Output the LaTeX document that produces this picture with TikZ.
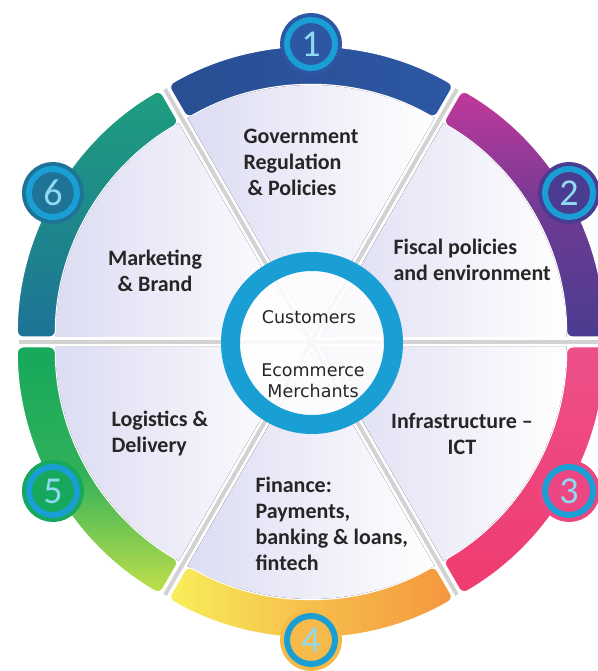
\documentclass[tikz,border=0pt]{standalone}
\usepackage{fontspec}
\setmainfont{Carlito}
\newfontfamily\hubfont{DejaVu Sans}

\definecolor{ringc}{HTML}{1A9FD4}
\definecolor{numc}{HTML}{8FD9F3}
\definecolor{txt}{HTML}{262626}
\definecolor{lav}{HTML}{DCDCF3}
\definecolor{cOne}{HTML}{2D57A3}
\definecolor{cTwoA}{HTML}{C2389B}
\definecolor{cTwoB}{HTML}{4A3C91}
\definecolor{cThree}{HTML}{EC4683}
\definecolor{cFourA}{HTML}{F8EF5A}
\definecolor{cFourB}{HTML}{F5963F}
\definecolor{cFiveA}{HTML}{16A85C}
\definecolor{cFiveB}{HTML}{C2E04A}
\definecolor{cSixA}{HTML}{1E9E7E}
\definecolor{cSixB}{HTML}{1E7396}

\begin{document}
\begin{tikzpicture}[
    x=1pt, y=1pt,
    wedge/.style={left color=lav, right color=white},
    band/.style={draw=white, line width=1pt, rounded corners=6pt},
    band1/.style={left color=cOne!90!black, right color=cOne},
    band2/.style={top color=cTwoA, bottom color=cTwoB, middle color=cTwoB!70!cTwoA},
    band3/.style={top color=cThree!95!white, bottom color=cThree!85!red},
    band4/.style={left color=cFourA, right color=cFourB, middle color=cFourA!45!cFourB},
    band5/.style={top color=cFiveA, bottom color=cFiveB, middle color=cFiveA!85!cFiveB},
    band6/.style={top color=cSixA, bottom color=cSixB},
    divider/.style={draw=gray!35, line width=4pt},
    hub/.style={circle, minimum size=163pt, draw=ringc, line width=19pt, fill=white, fill opacity=.85},
    badge/.style={circle, minimum size=48pt, inner sep=0pt, line width=6pt, draw=ringc, fill=#1,
        preaction={draw=#1, line width=14pt}, text=numc, font=\fontsize{38}{38}\selectfont},
    lbl/.style={font=\bfseries\fontsize{22}{26}\selectfont, text=txt, align=left},
    hubtxt/.style={font=\hubfont\fontsize{17.5}{21}\selectfont, text=txt, align=center}
]
\useasboundingbox (-311,-329) rectangle (286,342);

% gaps between the six parts
\foreach \a in {0,60,...,300}
  \draw[divider] (0,0) -- (\a:292);

% the six parts, pulled a little apart
\foreach \n/\a in {1/60, 2/0, 3/-60, 4/-120, 5/180, 6/120} {
  \begin{scope}[shift={(\a+30:10)}]
    \fill[wedge] (0,0) -- (\a:247) arc[start angle=\a, end angle=\a+60, radius=247pt] -- cycle;
    \path[band, band\n] (\a:285) arc[start angle=\a, end angle=\a+60, radius=285pt]
      -- (\a+60:247) arc[start angle=\a+60, end angle=\a, radius=247pt] -- cycle;
  \end{scope}
}

% hub
\node[hub] (hub) at (1,-1) {};
\node[hubtxt] (customers) at (-2,25) {Customers};
\node[hubtxt] (merchants) at (2,-39) {Ecommerce\\Merchants};

% labels
\node[lbl, anchor=west] (gov) at (-71,180) {Government\\Regulation\\\hspace*{4pt}\& Policies};
\node[lbl, anchor=west] (fiscal) at (79,82) {Fiscal policies\\and environment};
\node[lbl, align=center] (infra) at (151,-92) {Infrastructure –\\ICT};
\node[lbl, anchor=west] (finance) at (-59,-182) {Finance:\\Payments,\\banking \& loans,\\fintech};
\node[lbl, anchor=west] (logistics) at (-203,-91) {Logistics \&\\Delivery};
\node[lbl, align=center] (marketing) at (-156,71) {Marketing\\\& Brand};

% numbers
\node[badge=cOne] (b1) at (90:298) {1};
\node[badge=cTwoB] (b2) at (30:298) {2};
\node[badge=cThree] (b3) at (-30:298) {3};
\node[badge=cFourA!40!cFourB] (b4) at (-90:298) {4};
\node[badge=cFiveA] (b5) at (-150:298) {5};
\node[badge=cSixB] (b6) at (150:298) {6};
\end{tikzpicture}
\end{document}
